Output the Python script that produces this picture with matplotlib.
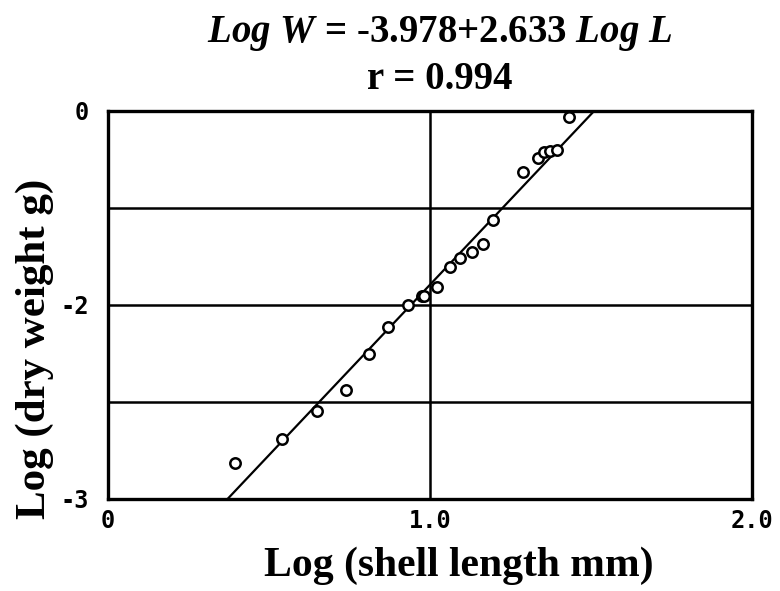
import numpy as np
import matplotlib.pyplot as plt

# Data
log_length = [0.396, 0.542, 0.651, 0.741, 0.810, 0.869, 0.931, 0.975, 0.981,
              1.022, 1.062, 1.093, 1.131, 1.165, 1.196, 1.290, 1.336, 1.355,
              1.374, 1.396, 1.433]
log_weight = [-2.72, -2.54, -2.32, -2.16, -1.88, -1.67, -1.50, -1.43, -1.43,
              -1.36, -1.21, -1.14, -1.09, -1.03, -0.84, -0.47, -0.36, -0.32,
              -0.31, -0.30, -0.05]

# Regression
a = -3.978
b = 2.633

x_ticks = [0, 1.0, 2.0]
x_ticklabels = ['0', '1.0', '2.0']
y_ticks = [0, -1.5, -3]
y_ticklabels = ['0', '-2', '-3']
h_lines = [-0.75, -1.5, -2.25]

plt.rcParams['mathtext.fontset'] = 'custom'
plt.rcParams['mathtext.rm'] = 'Liberation Serif:bold'
plt.rcParams['mathtext.it'] = 'Liberation Serif:italic:bold'

fig = plt.figure(figsize=(7.8, 5.91), dpi=100)
ax = fig.add_axes([0.1385, 0.1557, 0.825, 0.6565])

# garis grid
for yy in h_lines:
    ax.axhline(yy, color='black', lw=1.8)
ax.axvline(1.0, color='black', lw=1.8)

# garis regresi dari y=-3 sampai y=0
x0 = (-3 - a) / b
x1 = (0 - a) / b
xl = np.array([x0, x1])
ax.plot(xl, a + b * xl, color='black', lw=1.6)

# titik data
ax.plot(log_length, log_weight, 'o', ms=7.5, mfc='white', mec='black', mew=1.8)

ax.set_xlim(0, 2.0)
ax.set_ylim(-3, 0)
ax.set_xticks(x_ticks)
ax.set_xticklabels(x_ticklabels)
ax.set_yticks(y_ticks)
ax.set_yticklabels(y_ticklabels)
ax.tick_params(axis='x', length=0, pad=7)
ax.tick_params(axis='y', length=0, pad=14)
for lab in ax.get_xticklabels() + ax.get_yticklabels():
    lab.set_fontfamily('DejaVu Sans Mono')
    lab.set_fontweight('bold')
    lab.set_fontsize(17)
for sp in ax.spines.values():
    sp.set_linewidth(2.4)

# label sumbu
fig.text(0.588, 0.042, 'Log (shell length mm)', ha='center', va='center',
         fontfamily='Liberation Serif', fontweight='bold', fontsize=30)
fig.text(0.045, 0.41, 'Log (dry weight g)', ha='center', va='center',
         rotation=90, fontfamily='Liberation Serif', fontweight='bold',
         fontsize=31)

# judul
fig.text(0.564, 0.944, r'$\mathit{Log\ W}$ = -3.978+2.633 $\mathit{Log\ L}$',
         ha='center', va='center', fontfamily='Liberation Serif',
         fontweight='bold', fontsize=28)
fig.text(0.564, 0.866, 'r = 0.994', ha='center', va='center',
         fontfamily='Liberation Serif', fontweight='bold', fontsize=28)

plt.savefig('out.png', dpi=100)
